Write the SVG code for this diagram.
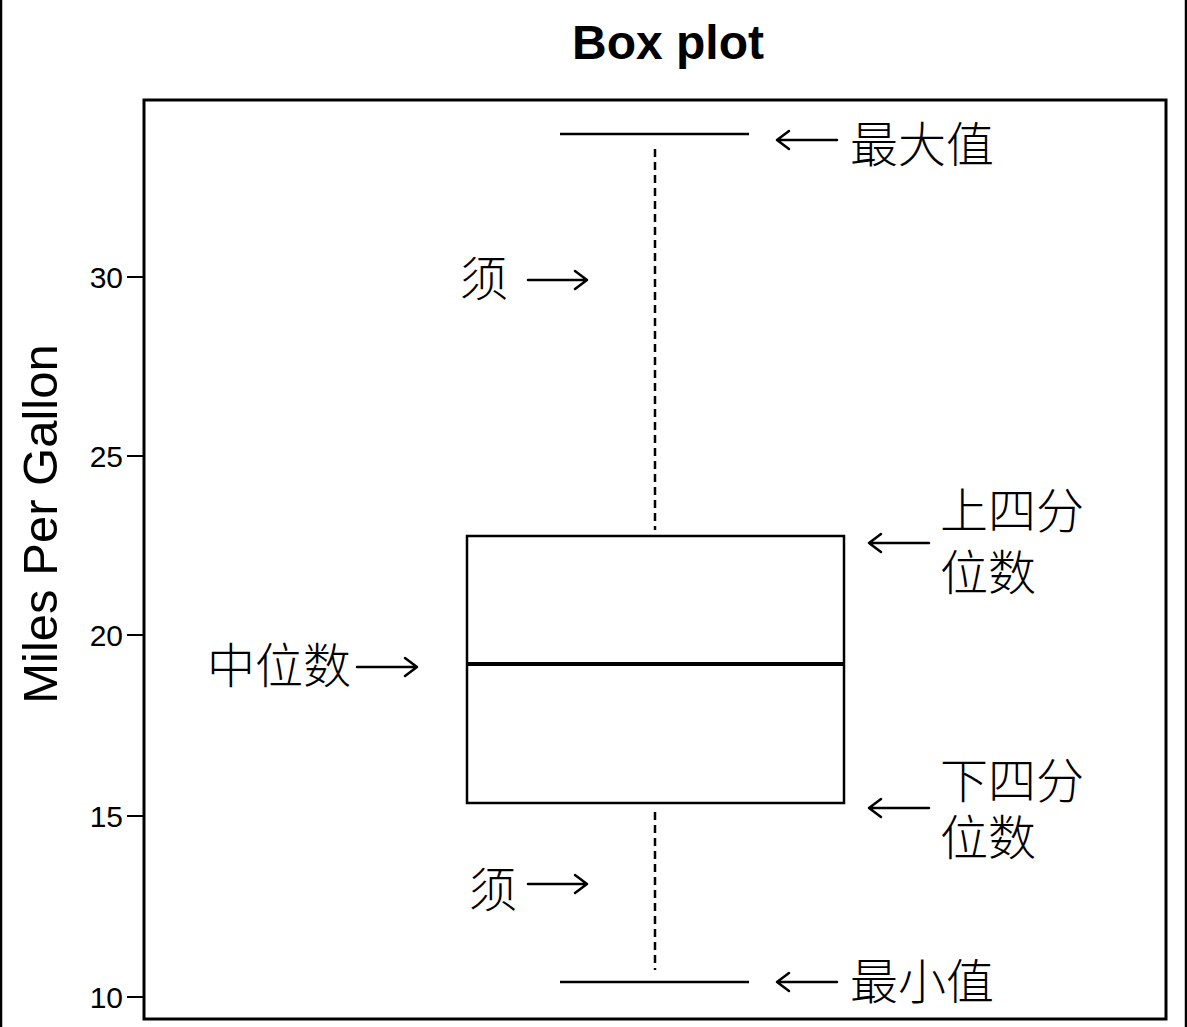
<svg xmlns="http://www.w3.org/2000/svg" width="1187" height="1027" viewBox="0 0 1187 1027">
<style>
.bg{fill:#fff}
.edge{stroke:#000;stroke-width:2.5}
.frame{fill:none;stroke:#000;stroke-width:3}
.tick{stroke:#000;stroke-width:2}
.ticklab{font-family:"Liberation Sans",Arial,sans-serif;font-size:30px;fill:#000;text-anchor:end}
.title{font-family:"Liberation Sans",Arial,sans-serif;font-size:48px;font-weight:bold;fill:#000;text-anchor:middle}
.ylab{font-family:"Liberation Sans",Arial,sans-serif;font-size:49px;fill:#000;text-anchor:middle}
.cjk{font-family:"Noto Sans CJK SC","Noto Sans CJK TC",sans-serif;font-size:48px;font-weight:300;fill:#000}
.box{fill:none;stroke:#000;stroke-width:2.5}
.median{stroke:#000;stroke-width:4}
.cap{stroke:#000;stroke-width:2.5}
.whisker{stroke:#000;stroke-width:2.5;stroke-dasharray:8 5}
.arrow{fill:none;stroke:#000;stroke-width:2.5;stroke-linecap:round;stroke-linejoin:round}
</style>
<rect class="bg" x="0" y="0" width="1187" height="1027"/>
<line class="edge" x1="1" y1="0" x2="1" y2="1027"/>
<line class="edge" x1="1186" y1="0" x2="1186" y2="1027"/>

<text class="title" x="668" y="59">Box plot</text>

<g id="axes">
<rect class="frame" x="144" y="100" width="1022" height="919"/>
<line class="tick" x1="127" y1="277" x2="144" y2="277"/>
<line class="tick" x1="127" y1="456" x2="144" y2="456"/>
<line class="tick" x1="127" y1="635" x2="144" y2="635"/>
<line class="tick" x1="127" y1="816" x2="144" y2="816"/>
<line class="tick" x1="127" y1="997" x2="144" y2="997"/>
<text class="ticklab" x="123" y="288">30</text>
<text class="ticklab" x="123" y="467">25</text>
<text class="ticklab" x="123" y="646">20</text>
<text class="ticklab" x="123" y="827">15</text>
<text class="ticklab" x="123" y="1008">10</text>
<text class="ylab" transform="translate(57 524) rotate(-90)">Miles Per Gallon</text>
</g>

<g id="boxplot">
<rect class="box" x="467" y="536" width="377" height="267"/>
<line class="median" x1="467" y1="664" x2="844" y2="664"/>
<line class="cap" x1="560" y1="134" x2="749" y2="134"/>
<line class="cap" x1="560" y1="982" x2="749" y2="982"/>
</g>

<g id="connectors">
<line class="whisker" x1="655" y1="149" x2="655" y2="530"/>
<line class="whisker" x1="655" y1="812" x2="655" y2="970"/>
<path class="arrow" d="M837 140 H777 M789 131 L777 140 L789 149"/>
<path class="arrow" d="M528 280 H587 M575 271 L587 280 L575 289"/>
<path class="arrow" d="M357 667 H417 M405 658 L417 667 L405 676"/>
<path class="arrow" d="M929 543 H869 M881 534 L869 543 L881 552"/>
<path class="arrow" d="M929 808 H869 M881 799 L869 808 L881 817"/>
<path class="arrow" d="M528 884 H587 M575 875 L587 884 L575 893"/>
<path class="arrow" d="M837 982 H777 M789 973 L777 982 L789 991"/>
</g>

<g id="label-max"><text class="cjk" x="850" y="162">最大值</text></g>
<g id="label-whisker-top"><text class="cjk" x="460" y="296">须</text></g>
<g id="label-median"><text class="cjk" x="207" y="683">中位数</text></g>
<g id="label-q3"><text class="cjk" x="940" y="528">上四分<tspan x="940" y="590">位数</tspan></text></g>
<g id="label-q1"><text class="cjk" x="940" y="798">下四分<tspan x="940" y="855">位数</tspan></text></g>
<g id="label-whisker-bottom"><text class="cjk" x="469" y="907">须</text></g>
<g id="label-min"><text class="cjk" x="850" y="999">最小值</text></g>
</svg>
